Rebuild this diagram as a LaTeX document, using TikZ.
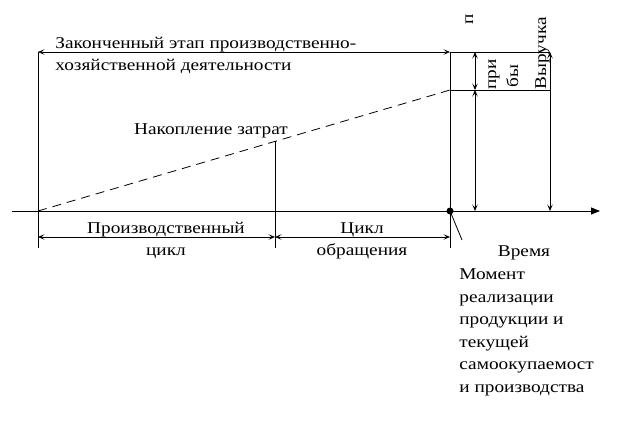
\documentclass[tikz,border=0pt]{standalone}
\usepackage{fontspec}
\setmainfont[FakeStretch=1.17]{Liberation Serif}
\usetikzlibrary{arrows.meta}
\begin{document}
\begin{tikzpicture}[x=1pt,y=-1pt,
  line width=0.8pt,
  dbl/.style={{Stealth[length=6.5pt,width=5.5pt,inset=3pt]}-{Stealth[length=6.5pt,width=5.5pt,inset=3pt]}},
  txt/.style={font=\fontsize{16.5}{22.5}\selectfont, inner sep=0pt},
  rot/.style={txt, rotate=90, anchor=base west}]
\useasboundingbox (0,0) rectangle (620,428);
% points
\coordinate (S) at (12,211);
\coordinate (E) at (600,211);
\coordinate (O) at (38,211);
\coordinate (A) at (450,211);
\coordinate (TL) at (38,52);
\coordinate (TR) at (450,52);
\coordinate (TRR) at (550,52);
\coordinate (M) at (450,90);
\coordinate (MR) at (550,90);
\coordinate (C) at (275,141);
\coordinate (Ob) at (38,248);
\coordinate (Cb) at (275,248);
\coordinate (Ab) at (450,248);
\coordinate (La) at (38,237);
\coordinate (Lc) at (275,237);
\coordinate (Lr) at (450,237);
\coordinate (P1) at (475,52);
\coordinate (P2) at (475,90);
\coordinate (P3) at (475,211);
\coordinate (V1) at (550,52);
\coordinate (V2) at (550,211);
\coordinate (T) at (462,240);
% axis
\draw[-{Triangle[length=9pt,width=7pt]}] (S) -- (E);
% verticals
\draw (TL) -- (Ob);
\draw (TR) -- (Ab);
\draw (C) -- (Cb);
% top boxes
\draw (TR) -- (TRR);
\draw (M) -- (MR);
% dashed
\draw[dash pattern=on 9pt off 6pt] (O) -- (M);
% arrows
\draw[dbl] (TL) -- (TR);
\draw[dbl] (La) -- (Lc);
\draw[dbl] (Lc) -- (Lr);
\draw[dbl] (P1) -- (P2);
\draw[dbl] (P2) -- (P3);
\draw[dbl] (V1) -- (V2);
% moment
\fill (A) circle (3.5pt);
\draw (A) -- (T);
% texts
\node[txt, anchor=base west, align=left] (t1) at (55,70.5) {Законченный этап производственно-\\хозяйственной деятельности};
\node[txt, anchor=base] (t2) at (211,134) {Накопление затрат};
\node[txt, anchor=base, align=center] (t3) at (166,255.5) {Производственный\\цикл};
\node[txt, anchor=base, align=center] (t4) at (362,255.5) {Цикл\\обращения};
\node[txt, anchor=base] (t5) at (524,256) {Время};
\node[txt, anchor=base west, align=left] (t6) at (459,392) {Момент\\реализации\\продукции и\\текущей\\самоокупаемост\\и производства};
\node[rot] (r1) at (473,25) {п};
\node[rot] (r2) at (496,90) {при};
\node[rot] (r3) at (518,88) {бы};
\node[rot] (r4) at (546,90) {Выручка};
\end{tikzpicture}
\end{document}
